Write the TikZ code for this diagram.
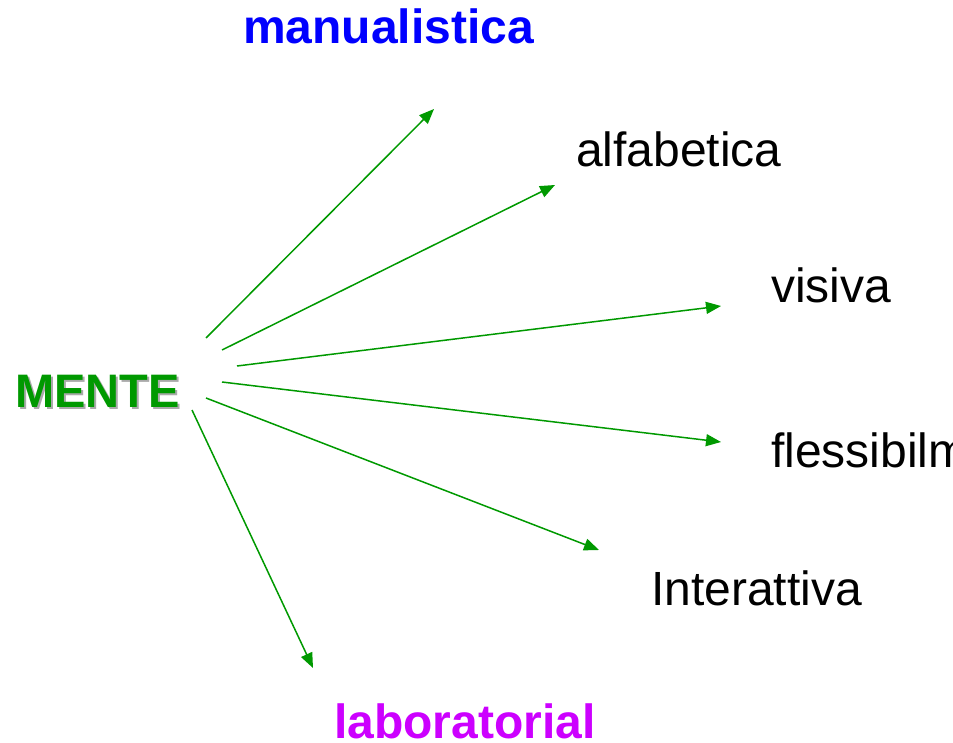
\documentclass[tikz,border=0pt]{standalone}
\usepackage{fontspec}
\setmainfont{Liberation Sans}
\usetikzlibrary{arrows.meta}
\definecolor{mgreen}{RGB}{0,153,0}
\definecolor{mblue}{RGB}{0,0,255}
\definecolor{mviolet}{RGB}{204,0,255}
\definecolor{mshadow}{RGB}{170,170,170}
\tikzset{
  lbl/.style={anchor=base west, inner sep=0pt, font=\fontsize{48}{50}\selectfont},
  blbl/.style={lbl, font=\fontsize{48}{50}\selectfont\bfseries},
  conn/.style={draw=mgreen, line width=1.5pt, -{Triangle[length=15pt,width=12pt]}}
}
\begin{document}
\begin{tikzpicture}[x=1pt,y=-1pt]
\useasboundingbox (0,0) rectangle (953,743);
\clip (0,0) rectangle (953,743);
% MENTE with shadow
\node[blbl, text=mshadow, font=\fontsize{47}{50}\selectfont\bfseries] at (17,409) {MENTE};
\node[blbl, text=mgreen, font=\fontsize{47}{50}\selectfont\bfseries] (m) at (15,407) {MENTE};
% labels
\node[blbl, text=mblue] (ma) at (243,44) {manualistica};
\node[lbl] (al) at (576,167) {alfabetica};
\node[lbl] (vi) at (771,303) {visiva};
\node[lbl] (fl) at (771,467) {flessibilm};
\node[lbl] (in) at (651,605) {Interattiva};
\node[blbl, text=mviolet] (la) at (334,738) {laboratorial};
% connector anchors
\coordinate (s1) at (206,338); \coordinate (e1) at (434,109);
\coordinate (s2) at (222,350); \coordinate (e2) at (555,185);
\coordinate (s3) at (237,366); \coordinate (e3) at (721,306);
\coordinate (s4) at (222,382); \coordinate (e4) at (721,442);
\coordinate (s5) at (206,398); \coordinate (e5) at (599,550);
\coordinate (s6) at (192,410); \coordinate (e6) at (313,668);
\draw[conn] (s1) -- (e1);
\draw[conn] (s2) -- (e2);
\draw[conn] (s3) -- (e3);
\draw[conn] (s4) -- (e4);
\draw[conn] (s5) -- (e5);
\draw[conn] (s6) -- (e6);
\end{tikzpicture}
\end{document}
